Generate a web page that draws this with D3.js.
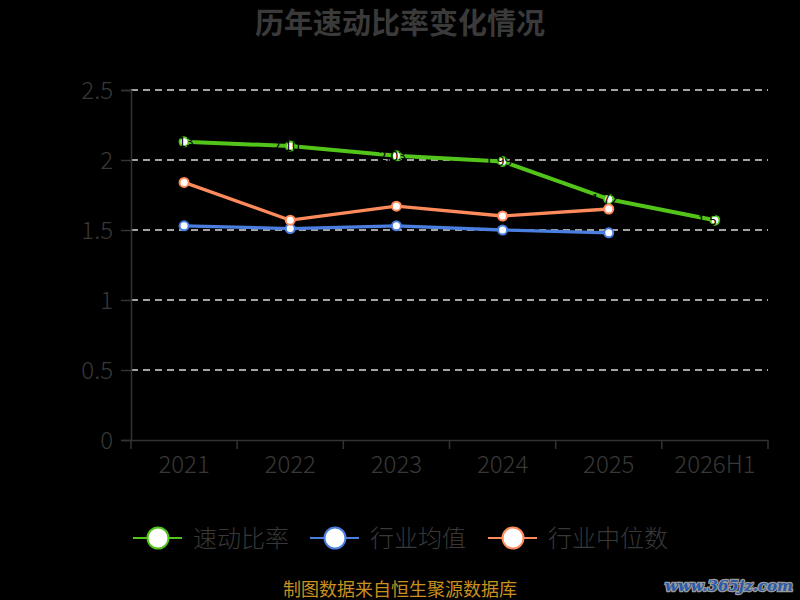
<!DOCTYPE html>
<html>
<head>
<meta charset="utf-8">
<script src="https://cdn.jsdelivr.net/npm/d3@7"></script>
<style>
  html, body { margin: 0; padding: 0; background: #000; }
  svg { display: block; }
</style>
</head>
<body>
<div id="chart"></div>
<script>
// Data
const years = ["2021", "2022", "2023", "2024", "2025", "2026H1"];
const quickRatio = [2.13, 2.10, 2.03, 1.99, 1.72, 1.57];
const industryMean = [1.53, 1.51, 1.53, 1.50, 1.48];
const industryMedian = [1.84, 1.57, 1.67, 1.60, 1.65];
const yTicks = [0, 0.5, 1, 1.5, 2, 2.5];

const seriesList = [
    { name: "速动比率", values: quickRatio, color: "#52c41a", width: 4, labels: true },
    { name: "行业均值", values: industryMean, color: "#4a7fe0", width: 3.3, labels: false },
    { name: "行业中位数", values: industryMedian, color: "#ff8a5b", width: 3.3, labels: false }
];

const width = 800, height = 600;
const margin = { top: 90, right: 32, bottom: 160, left: 131 };
const font = "'Noto Sans CJK SC', 'Noto Sans', sans-serif";

const svg = d3.select("#chart").append("svg")
    .attr("width", width)
    .attr("height", height)
    .style("background", "#000");

// Title
svg.append("text")
    .attr("x", width / 2)
    .attr("y", 34)
    .attr("text-anchor", "middle")
    .style("font-family", font)
    .style("font-size", "29px")
    .style("font-weight", "bold")
    .style("fill", "#3a3a3a")
    .text("历年速动比率变化情况");

// Scales
const x = d3.scaleBand()
    .domain(years)
    .range([margin.left, width - margin.right]);

const y = d3.scaleLinear()
    .domain([0, 2.5])
    .range([height - margin.bottom, margin.top]);

// Grid lines
svg.append("g")
    .selectAll("line")
    .data(yTicks.filter(d => d > 0))
    .enter().append("line")
    .attr("x1", margin.left)
    .attr("x2", width - margin.right)
    .attr("y1", d => y(d))
    .attr("y2", d => y(d))
    .attr("stroke", "#d9d9d9")
    .attr("stroke-width", 1.5)
    .attr("stroke-dasharray", "7,5");

// Axes
const yAxis = svg.append("g")
    .attr("transform", `translate(${margin.left},0)`)
    .call(d3.axisLeft(y).tickValues(yTicks).tickSize(10).tickPadding(8).tickFormat(d => d));

const xAxis = svg.append("g")
    .attr("transform", `translate(0,${height - margin.bottom})`)
    .call(d3.axisBottom(x).tickSize(0).tickPadding(16));

// ticks at category boundaries
xAxis.append("g")
    .selectAll("line")
    .data(d3.range(years.length + 1))
    .enter().append("line")
    .attr("x1", i => margin.left + i * x.step())
    .attr("x2", i => margin.left + i * x.step())
    .attr("y1", 0)
    .attr("y2", 9)
    .attr("stroke", "#333")
    .attr("stroke-width", 1.5);

[yAxis, xAxis].forEach(ax => {
    ax.select(".domain").attr("stroke", "#333").attr("stroke-width", 1.5);
    ax.selectAll(".tick line").attr("stroke", "#333").attr("stroke-width", 1.5);
    ax.selectAll("text")
        .style("font-family", font)
        .style("font-size", "24px")
        .style("font-weight", "300")
        .style("fill", "#383838");
});
yAxis.selectAll(".tick text").attr("dy", "0.36em");
xAxis.selectAll(".tick text").attr("dy", "0.71em");

// Lines and points
const line = d3.line()
    .x((d, i) => x(years[i]) + x.bandwidth() / 2)
    .y(d => y(d));

seriesList.forEach(s => {
    svg.append("path")
        .datum(s.values)
        .attr("d", line)
        .attr("fill", "none")
        .attr("stroke", s.color)
        .attr("stroke-width", s.width)
        .attr("stroke-linejoin", "round");

    svg.append("g")
        .selectAll("circle")
        .data(s.values)
        .enter().append("circle")
        .attr("cx", (d, i) => x(years[i]) + x.bandwidth() / 2)
        .attr("cy", d => y(d))
        .attr("r", 4.5)
        .attr("fill", "#fff")
        .attr("stroke", s.color)
        .attr("stroke-width", 2);

    if (s.labels) {
        // value labels are black, so they only show where they cross the line
        svg.append("g")
            .selectAll("text")
            .data(s.values)
            .enter().append("text")
            .attr("x", (d, i) => x(years[i]) + x.bandwidth() / 2 - 4)
            .attr("y", d => y(d) + 5)
            .attr("text-anchor", "middle")
            .style("font-family", font)
            .style("font-size", "14px")
            .style("fill", "#000")
            .text(d => d.toFixed(2));
    }
});

// Legend
const legendX = [133, 310, 488];
const legend = svg.append("g")
    .selectAll("g")
    .data(seriesList)
    .enter().append("g")
    .attr("transform", (d, i) => `translate(${legendX[i]}, 538)`);

legend.append("line")
    .attr("x1", 0)
    .attr("x2", 49)
    .attr("stroke", d => d.color)
    .attr("stroke-width", 2);

legend.append("circle")
    .attr("cx", 25)
    .attr("r", 10.5)
    .attr("fill", "#fff")
    .attr("stroke", d => d.color)
    .attr("stroke-width", 2);

legend.append("text")
    .attr("x", 60)
    .attr("dy", "0.36em")
    .style("font-family", font)
    .style("font-size", "24px")
    .style("font-weight", "300")
    .style("fill", "#383838")
    .text(d => d.name);

// Footer
svg.append("text")
    .attr("x", width / 2)
    .attr("y", 596)
    .attr("text-anchor", "middle")
    .style("font-family", font)
    .style("font-size", "18px")
    .style("fill", "#c8901e")
    .text("制图数据来自恒生聚源数据库");

// Watermark
svg.append("text")
    .attr("x", 793)
    .attr("y", 591)
    .attr("text-anchor", "end")
    .style("font-family", "'DejaVu Serif', serif")
    .style("font-size", "15px")
    .style("font-weight", "bold")
    .style("font-style", "italic")
    .style("fill", "#2a5aa8")
    .style("stroke", "#9a9a9a")
    .style("stroke-width", 2.5)
    .style("paint-order", "stroke")
    .text("www.365jz.com");
</script>
</body>
</html>
